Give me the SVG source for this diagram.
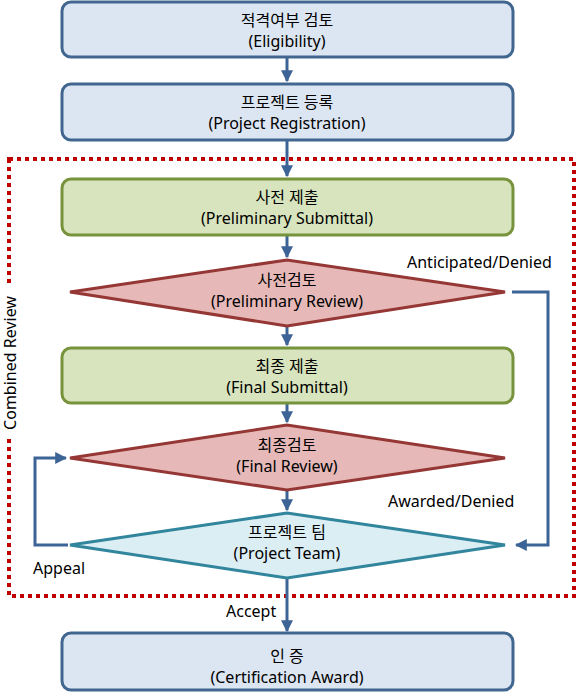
<svg xmlns="http://www.w3.org/2000/svg" width="580" height="695" viewBox="0 0 580 695">
<defs>
<marker id="ah" viewBox="0 0 10 10" refX="9" refY="5" markerWidth="4" markerHeight="4" orient="auto" markerUnits="strokeWidth">
<path d="M0,0 L10,5 L0,10 z" fill="#3d6496"/>
</marker>
<style>
.t{font-family:"Noto Sans","Noto Sans CJK KR",sans-serif;font-size:16px;fill:#000;text-anchor:middle}
.l{font-family:"Noto Sans","Noto Sans CJK KR",sans-serif;font-size:16px;fill:#000}
.blue{fill:#dce6f2;stroke:#41668f;stroke-width:3}
.green{fill:#d7e4bd;stroke:#77933c;stroke-width:3}
.red{fill:#e6b9b8;stroke:#953735;stroke-width:3}
.cyan{fill:#dbeef4;stroke:#31859c;stroke-width:3}
.c{fill:none;stroke:#3d6496;stroke-width:3;marker-end:url(#ah)}
</style>
</defs>
<rect width="580" height="695" fill="#fff"/>
<g id="combined-review">
<rect x="9" y="159" width="565" height="437" fill="none" stroke="#c00000" stroke-width="4" stroke-dasharray="4,4"/>
<rect x="0" y="286" width="22" height="152" fill="#fff"/>
<text class="l" transform="translate(16,363) rotate(-90)" text-anchor="middle">Combined Review</text>
</g>
<g id="connectors">
<path class="c" d="M287,57 V81"/>
<path class="c" d="M287,140 V176"/>
<path class="c" d="M287,235 V257"/>
<path class="c" d="M287,326 V345"/>
<path class="c" d="M287,403 V422"/>
<path class="c" d="M287,490 V510"/>
<path class="c" d="M287,578 V631"/>
<path class="c" d="M512,292 H548 V545 H516"/>
<path class="c" d="M68,545 H35 V458 H66"/>
<text class="l" x="407" y="268">Anticipated/Denied</text>
<text class="l" x="388" y="507">Awarded/Denied</text>
<text class="l" x="33" y="574">Appeal</text>
<text class="l" x="226" y="617">Accept</text>
</g>
<g id="eligibility">
<rect class="blue" x="62" y="2" width="451" height="55" rx="9"/>
<text class="t" x="287" y="26">적격여부 검토</text>
<text class="t" x="287" y="47">(Eligibility)</text>
</g>
<g id="registration">
<rect class="blue" x="62" y="84" width="451" height="56" rx="9"/>
<text class="t" x="287" y="108">프로젝트 등록</text>
<text class="t" x="287" y="129">(Project Registration)</text>
</g>
<g id="prelim-submittal">
<rect class="green" x="62" y="179" width="451" height="56" rx="9"/>
<text class="t" x="287" y="203">사전 제출</text>
<text class="t" x="287" y="224">(Preliminary Submittal)</text>
</g>
<g id="prelim-review">
<polygon class="red" points="70,292 287,260 505,292 287,326"/>
<text class="t" x="287" y="286">사전검토</text>
<text class="t" x="287" y="307">(Preliminary Review)</text>
</g>
<g id="final-submittal">
<rect class="green" x="62" y="348" width="451" height="55" rx="9"/>
<text class="t" x="287" y="372">최종 제출</text>
<text class="t" x="287" y="393">(Final Submittal)</text>
</g>
<g id="final-review">
<polygon class="red" points="70,458 287,425 505,458 287,490"/>
<text class="t" x="287" y="451">최종검토</text>
<text class="t" x="287" y="472">(Final Review)</text>
</g>
<g id="project-team">
<polygon class="cyan" points="70,545 287,513 505,545 287,578"/>
<text class="t" x="287" y="538">프로젝트 팀</text>
<text class="t" x="287" y="559">(Project Team)</text>
</g>
<g id="certification">
<rect class="blue" x="62" y="633" width="451" height="57" rx="9"/>
<text class="t" x="287" y="662">인 증</text>
<text class="t" x="287" y="683">(Certification Award)</text>
</g>
</svg>
